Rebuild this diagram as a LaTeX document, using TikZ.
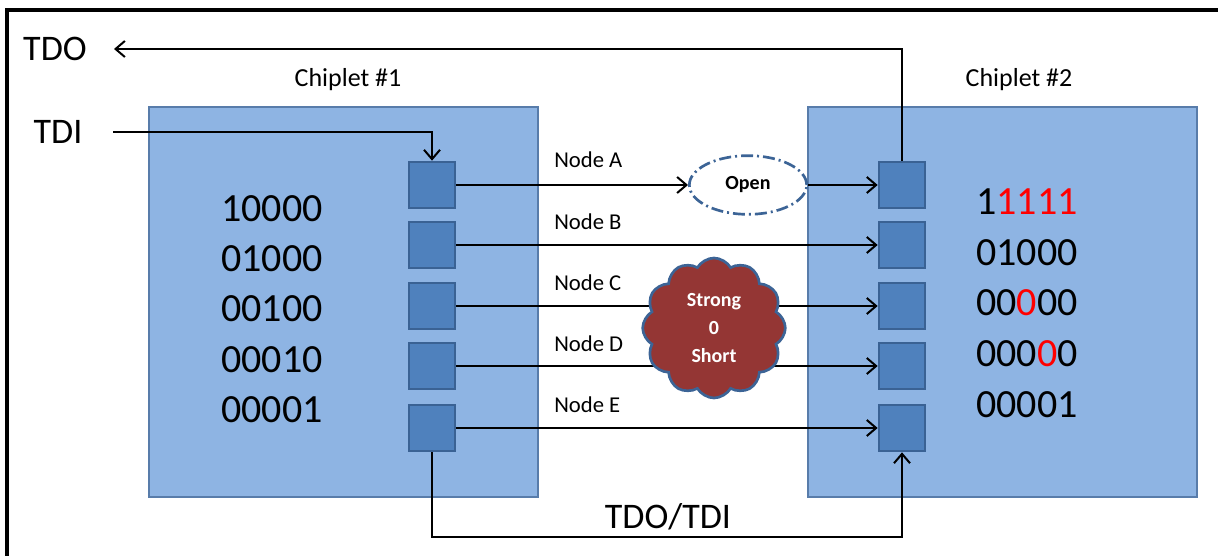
\documentclass[tikz,border=0pt]{standalone}
\usepackage{fontspec}
\setmainfont{Carlito}
\usetikzlibrary{arrows.meta,shapes.geometric,shapes.symbols}
\definecolor{chipfill}{RGB}{142,180,227}
\definecolor{chipdraw}{RGB}{88,124,170}
\definecolor{padfill}{RGB}{79,129,189}
\definecolor{paddraw}{RGB}{58,98,148}
\definecolor{faultblue}{RGB}{60,100,150}
\definecolor{shortred}{RGB}{148,54,52}
\definecolor{bitred}{RGB}{255,0,0}
\tikzset{
  chip/.style={draw=chipdraw, fill=chipfill, line width=1.5pt, minimum width=292pt, minimum height=292.5pt, inner sep=0pt},
  pad/.style={draw=paddraw, fill=padfill, line width=1.5pt, minimum width=35pt, minimum height=35pt, inner sep=0pt},
  conn/.style={draw=black, line width=1.5pt, -{Straight Barb[length=7pt,width=12pt,line width=1.5pt]}},
  lbl/.style={font=\fontsize{17pt}{20pt}\selectfont, anchor=west, inner sep=0pt},
  bits/.style={font=\fontsize{30pt}{36pt}\selectfont, inner sep=0pt},
  big/.style={font=\fontsize{27pt}{32pt}\selectfont, inner sep=0pt},
  chiplbl/.style={font=\fontsize{19.5pt}{23pt}\selectfont, inner sep=0pt},
}
\begin{document}
\begin{tikzpicture}[x=0.75pt,y=-0.75pt]
\useasboundingbox (0,0) rectangle (1218,556);
% frame
\draw[line width=3pt] (7,556) -- (7,10) -- (1218,10);
% chiplets
\node[chip] (c1) at (343.5,302) {};
\node[chip] (c2) at (1002.5,302) {};
\node[chiplbl] (t1) at (348,80) {Chiplet \#1};
\node[chiplbl] (t2) at (1019,80) {Chiplet \#2};
% pads
\foreach \n/\y in {A/185,B/245,C/306,D/366,E/428}{
  \node[pad] (L\n) at (432,\y) {};
  \node[pad] (R\n) at (902,\y) {};
}
% bits left
\node[bits] (l1) at (272,209) {10000};
\node[bits] (l2) at (272,259) {01000};
\node[bits] (l3) at (272,309) {00100};
\node[bits] (l4) at (272,360) {00010};
\node[bits] (l5) at (272,410) {00001};
% bits right
\node[bits] (r1) at (1027,202) {1\textcolor{bitred}{1111}};
\node[bits] (r2) at (1027,253) {01000};
\node[bits] (r3) at (1027,303) {00\textcolor{bitred}{0}00};
\node[bits] (r4) at (1027,354) {000\textcolor{bitred}{0}0};
\node[bits] (r5) at (1027,405) {00001};
% node labels
\node[lbl] (na) at (554,160) {Node A};
\node[lbl] (nb) at (554,222) {Node B};
\node[lbl] (nc) at (554,283) {Node C};
\node[lbl] (nd) at (554,344) {Node D};
\node[lbl] (ne) at (554,405) {Node E};
% open fault
\node[ellipse, draw=faultblue, fill=white, line width=2pt,
      dash pattern=on 9pt off 3pt on 1.5pt off 3pt,
      minimum width=88pt, minimum height=44pt, inner sep=0pt,
      font=\bfseries\fontsize{15pt}{18pt}\selectfont] (open) at (748,185) {Open};
% connectors
\draw[conn] (LA.east) -- (open.west);
\draw[conn] (open.east) -- (RA.west);
\draw[conn] (LB.east) -- (RB.west);
\draw[conn] (LC.east) -- (RC.west);
\draw[conn] (LD.east) -- (RD.west);
\draw[conn] (LE.east) -- (RE.west);
% short fault
\node[cloud, cloud puffs=12, cloud puff arc=120, aspect=1,
      draw=faultblue, fill=shortred, line width=2pt,
      minimum width=107pt, minimum height=105pt, inner sep=0pt,
      align=center, text=white,
      font=\bfseries\fontsize{15pt}{21pt}\selectfont] (short) at (714,328) {Strong\\0\\Short};
% JTAG chain
\node[big] (tdo) at (55,49) {TDO};
\node[big] (tdi) at (58,132) {TDI};
\coordinate (tdotip) at (114,49);
\coordinate (tdistart) at (113,132);
\coordinate (bot) at (0,537);
\draw[conn] (RA.north) |- (tdotip);
\draw[conn] (tdistart) -| (LA.north);
\draw[conn] (LE.south) -- (LE.south |- bot) -| (RE.south);
\node[big] (chain) at (668,517) {TDO/TDI};
\end{tikzpicture}
\end{document}
